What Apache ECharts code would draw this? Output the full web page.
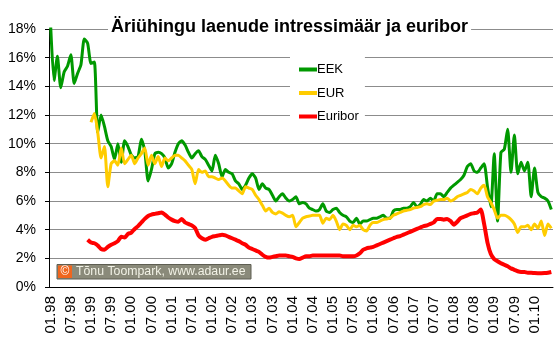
<!DOCTYPE html>
<html><head><meta charset="utf-8">
<script src="https://cdn.jsdelivr.net/npm/echarts@6/dist/echarts.min.js"></script>
<style>html,body{margin:0;padding:0;background:#fff}#c{width:560px;height:342px}</style>
</head><body><div id="c"></div>
<script>
const months = [
'01.98','02.98','03.98','04.98','05.98','06.98','07.98','08.98','09.98','10.98','11.98','12.98',
'01.99','02.99','03.99','04.99','05.99','06.99','07.99','08.99','09.99','10.99','11.99','12.99',
'01.00','02.00','03.00','04.00','05.00','06.00','07.00','08.00','09.00','10.00','11.00','12.00',
'01.01','02.01','03.01','04.01','05.01','06.01','07.01','08.01','09.01','10.01','11.01','12.01',
'01.02','02.02','03.02','04.02','05.02','06.02','07.02','08.02','09.02','10.02','11.02','12.02',
'01.03','02.03','03.03','04.03','05.03','06.03','07.03','08.03','09.03','10.03','11.03','12.03',
'01.04','02.04','03.04','04.04','05.04','06.04','07.04','08.04','09.04','10.04','11.04','12.04',
'01.05','02.05','03.05','04.05','05.05','06.05','07.05','08.05','09.05','10.05','11.05','12.05',
'01.06','02.06','03.06','04.06','05.06','06.06','07.06','08.06','09.06','10.06','11.06','12.06',
'01.07','02.07','03.07','04.07','05.07','06.07','07.07','08.07','09.07','10.07','11.07','12.07',
'01.08','02.08','03.08','04.08','05.08','06.08','07.08','08.08','09.08','10.08','11.08','12.08',
'01.09','02.09','03.09','04.09','05.09','06.09','07.09','08.09','09.09','10.09','11.09','12.09',
'01.10','02.10','03.10','04.10','05.10','06.10'
];
const eek = [
18.2,14.4,16.1,13.9,15.0,15.4,16.2,14.2,14.9,15.5,
17.3,17.0,15.6,15.7,10.8,12.0,11.2,10.2,9.8,8.9,
10.0,8.7,10.2,9.8,9.2,9.0,9.1,10.3,9.5,7.4,
8.2,9.3,9.4,9.3,9.0,8.3,8.6,9.4,10.0,10.2,
9.9,9.4,9.0,9.3,9.5,9.1,8.9,8.5,8.1,9.2,
8.6,7.7,8.2,8.0,7.9,7.4,7.2,6.8,7.1,7.6,
7.9,7.6,6.8,7.2,6.9,6.8,6.4,6.0,6.3,6.5,
6.2,6.0,6.1,6.3,5.8,5.9,5.8,5.5,5.4,5.3,
5.4,5.8,5.3,5.2,5.4,5.5,5.2,5.0,4.9,4.6,
4.5,4.8,4.4,4.6,4.6,4.7,4.8,4.8,4.9,5.0,
4.8,4.8,5.3,5.4,5.4,5.5,5.5,5.6,5.9,5.6,
5.75,6.1,6.0,6.2,6.0,6.5,6.5,6.3,6.6,6.9,
7.1,7.3,7.5,7.8,8.4,8.6,8.1,8.0,8.3,8.6,
7.0,5.6,9.3,4.6,9.4,9.6,11.0,8.0,10.6,7.9,
8.7,8.1,8.7,6.3,8.3,6.6,6.3,6.2,6.0,5.4
];
const eur = [
null,null,null,null,null,null,null,null,null,null,null,null,
11.5,12.1,10.8,9.0,9.8,7.0,8.6,8.8,
8.5,9.7,8.6,8.9,9.2,8.6,9.0,9.3,9.7,8.5,
9.2,8.6,9.1,8.4,9.0,8.8,9.0,9.2,9.2,9.0,
8.8,8.5,8.2,7.2,8.2,8.0,8.1,7.7,7.7,7.6,
7.5,7.6,7.4,7.1,6.9,6.9,6.7,6.5,7.0,6.9,
6.8,6.4,6.1,5.7,5.3,5.5,5.2,5.1,5.25,5.15,
5.0,4.9,5.0,4.2,4.5,4.8,4.9,4.95,5.0,5.0,
5.0,4.45,4.8,4.7,5.0,4.6,4.0,4.4,4.3,4.0,
4.3,4.2,4.3,4.0,3.9,4.3,4.5,4.5,4.6,4.7,
4.75,4.8,5.0,5.1,5.2,5.3,5.35,5.4,5.5,5.55,
5.6,5.75,5.8,5.75,6.0,6.05,6.1,6.1,6.2,6.0,
6.1,6.3,6.4,6.5,6.6,6.8,6.7,6.5,6.9,7.1,
6.3,5.9,5.4,4.8,5.0,5.0,4.9,4.7,4.4,3.8,
4.2,4.2,4.3,4.0,4.4,4.1,4.6,3.6,4.4,4.1
];
const euribor = [
null,null,null,null,null,null,null,null,null,null,null,
3.3,
3.1,3.05,2.9,2.65,2.6,2.8,2.95,3.05,
3.2,3.5,3.45,3.7,3.8,4.05,4.25,4.5,4.75,4.95,
5.05,5.1,5.15,5.2,5.05,4.85,4.7,4.6,4.55,4.75,
4.5,4.4,4.3,4.1,3.6,3.4,3.3,3.4,3.5,3.55,
3.6,3.65,3.6,3.5,3.4,3.3,3.2,3.05,2.95,2.75,
2.65,2.55,2.45,2.25,2.1,2.05,2.1,2.15,2.2,2.2,
2.2,2.15,2.1,2.0,1.95,2.05,2.15,2.15,2.2,2.2,
2.2,2.2,2.2,2.2,2.2,2.2,2.2,2.15,2.15,2.15,
2.15,2.2,2.35,2.6,2.7,2.75,2.8,2.9,3.0,3.1,
3.2,3.3,3.4,3.5,3.55,3.65,3.75,3.85,3.95,4.05,
4.15,4.25,4.3,4.4,4.5,4.75,4.75,4.7,4.75,4.6,
4.35,4.55,4.8,4.9,5.0,5.1,5.15,5.2,5.4,4.4,
3.1,2.3,1.95,1.8,1.65,1.55,1.45,1.3,1.2,1.1,
1.05,1.05,1.0,1.0,0.97,0.96,0.96,0.97,1.0,1.05
];
const seriesNames = ['EEK','EUR','Euribor'];
const seriesColors = ['#009900','#ffcc00','#ff0000'];
const titleText = 'Äriühingu laenude intressimäär ja euribor';
const creditText = 'Tõnu Toompark, www.adaur.ee';
const FF = "'Liberation Sans', Arial, sans-serif";

const chart = echarts.init(document.getElementById('c'), null, {renderer:'canvas'});
chart.setOption({
  animation:false,
  backgroundColor:'#fff',
  title:{text:titleText,left:108,top:16,padding:[2,3,2,3],backgroundColor:'#fff',
    textStyle:{fontSize:18,fontWeight:'bold',color:'#000',fontFamily:FF}},
  legend:{orient:'vertical',left:290,top:56,padding:[6,6,6,9],itemGap:8.5,itemWidth:18,itemHeight:4,
    icon:'rect',backgroundColor:'#fff',data:seriesNames,
    textStyle:{fontSize:13,color:'#000',fontFamily:FF,lineHeight:15,padding:[0,0,0,-5]}},
  grid:{left:49,right:7,top:29,bottom:55},
  xAxis:{type:'category',data:months,boundaryGap:true,
    axisLine:{lineStyle:{color:'#000',width:1}},
    axisTick:{interval:5,length:4,lineStyle:{color:'#000'}},
    axisLabel:{interval:5,rotate:90,fontSize:15,color:'#000',margin:9,fontFamily:FF}},
  yAxis:{type:'value',min:0,max:18,interval:2,
    axisLine:{show:true,lineStyle:{color:'#000'}},
    axisTick:{show:true,length:4,lineStyle:{color:'#000'}},
    axisLabel:{formatter:'{value}%',fontSize:14,color:'#000',margin:13,fontFamily:FF},
    splitLine:{lineStyle:{color:'#8c8c8c'}}},
  series:[eek,eur,euribor].map((d,k)=>({
    name:seriesNames[k],type:'line',data:d,showSymbol:false,symbol:'none',smooth:0.2,
    connectNulls:false,color:seriesColors[k],
    lineStyle:{width:k===2?4:3,color:seriesColors[k]}
  })),
  graphic:[
    {type:'rect',z:100,shape:{x:57,y:264.5,width:194,height:14.5},style:{fill:'#8a8a7a',stroke:'#5e5e52',lineWidth:1}},
    {type:'rect',z:101,shape:{x:58,y:265.5,width:14,height:12.5},style:{fill:'#f0661e'}},
    {type:'text',z:102,x:65,y:272,style:{text:'©',fill:'#fff',font:'12px '+FF,align:'center',verticalAlign:'middle'}},
    {type:'text',z:102,x:76,y:272,style:{text:creditText,fill:'#f2f2e6',font:'12.3px '+FF,verticalAlign:'middle'}}
  ]
});
</script></body></html>
